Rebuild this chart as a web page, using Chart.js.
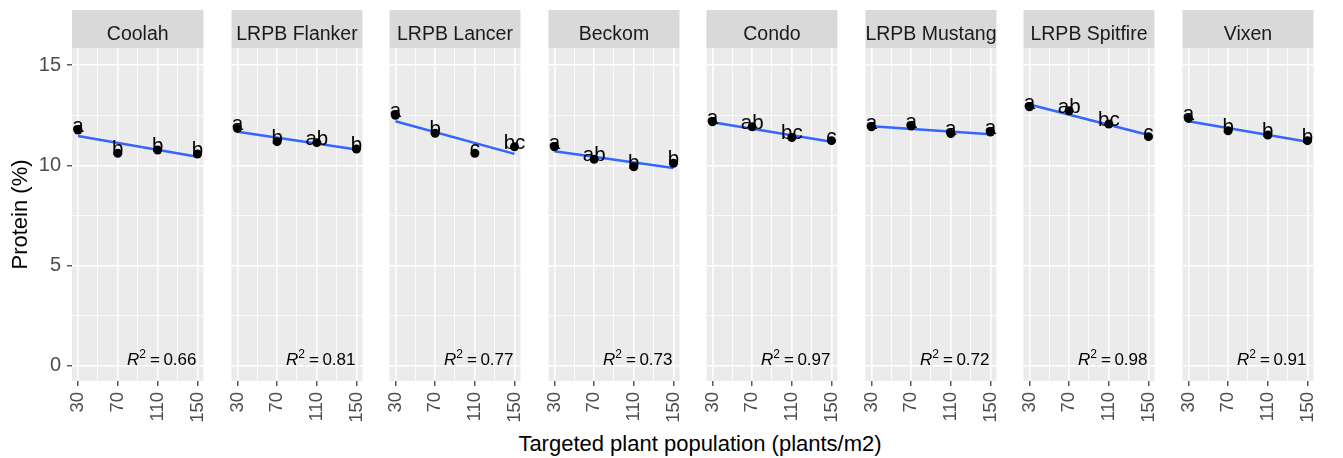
<!DOCTYPE html>
<html>
<head>
<meta charset="utf-8">
<script src="https://cdn.jsdelivr.net/npm/chart.js@4.4.1/dist/chart.umd.min.js"></script>
<style>
  html, body { margin: 0; padding: 0; background: #fff; }
  #wrap { position: relative; width: 1343px; height: 458px; overflow: hidden; font-family: "Liberation Sans", Arial, sans-serif; }
  #wrap canvas { position: absolute; top: 0; }
  #xtitle { position: absolute; left: 400px; width: 600px; top: 433px; text-align: center; font-size: 22px; line-height: 22px; color: #000; }
</style>
</head>
<body>
<div id="wrap">
  <div id="xtitle">Targeted plant population (plants/m2)</div>
</div>
<script>
// data
const varieties = ['Coolah', 'LRPB Flanker', 'LRPB Lancer', 'Beckom', 'Condo', 'LRPB Mustang', 'LRPB Spitfire', 'Vixen'];
const populations = [30, 70, 110, 150];

const proteinCoolah   = [11.76, 10.60, 10.76, 10.56];
const proteinFlanker  = [11.84, 11.18, 11.13, 10.81];
const proteinLancer   = [12.50, 11.60, 10.60, 10.93];
const proteinBeckom   = [10.93, 10.30, 9.93, 10.10];
const proteinCondo    = [12.17, 11.92, 11.39, 11.23];
const proteinMustang  = [11.92, 11.96, 11.59, 11.66];
const proteinSpitfire = [12.92, 12.72, 12.06, 11.43];
const proteinVixen    = [12.34, 11.72, 11.51, 11.23];

const lettersCoolah   = ['a', 'b', 'b', 'b'];
const lettersFlanker  = ['a', 'b', 'ab', 'b'];
const lettersLancer   = ['a', 'b', 'c', 'bc'];
const lettersBeckom   = ['a', 'ab', 'b', 'b'];
const lettersCondo    = ['a', 'ab', 'bc', 'c'];
const lettersMustang  = ['a', 'a', 'a', 'a'];
const lettersSpitfire = ['a', 'ab', 'bc', 'c'];
const lettersVixen    = ['a', 'b', 'b', 'b'];

// fitted line (lm) value at 30 and at 150
const fitAt30  = [11.46, 11.68, 12.20, 10.70, 12.15, 11.95, 13.03, 12.20];
const fitAt150 = [10.43, 10.79, 10.57, 9.87, 11.18, 11.55, 11.51, 11.18];
const rSquared = ['0.66', '0.81', '0.77', '0.73', '0.97', '0.72', '0.98', '0.91'];

const xTicks = [30, 70, 110, 150];
const xMinor = [50, 90, 130];
const yTicks = [0, 5, 10, 15];
const yMinor = [2.5, 7.5, 12.5];

const proteinAll = [proteinCoolah, proteinFlanker, proteinLancer, proteinBeckom, proteinCondo, proteinMustang, proteinSpitfire, proteinVixen];
const lettersAll = [lettersCoolah, lettersFlanker, lettersLancer, lettersBeckom, lettersCondo, lettersMustang, lettersSpitfire, lettersVixen];

const FONT = '"Liberation Sans", Arial, sans-serif';
const PANEL_W = 147;
const TOP = 48;      // top of panel (strip sits above)
const BOTTOM = 381;  // bottom of panel

const panelPlugin = {
  id: 'panel',
  beforeDraw(chart, args, opts) {
    const { ctx, chartArea: a } = chart;
    ctx.save();
    ctx.fillStyle = '#EBEBEB';
    ctx.fillRect(a.left, a.top, a.right - a.left, a.bottom - a.top);
    ctx.fillStyle = '#D9D9D9';
    ctx.fillRect(a.left, 10, a.right - a.left, a.top - 10);
    ctx.fillStyle = '#1A1A1A';
    ctx.font = '19.5px ' + FONT;
    ctx.textAlign = 'center';
    ctx.textBaseline = 'alphabetic';
    ctx.fillText(opts.strip, (a.left + a.right) / 2, 39.5);
    ctx.restore();
  },
  afterDatasetsDraw(chart, args, opts) {
    const { ctx } = chart;
    const meta = chart.getDatasetMeta(1);
    ctx.save();
    ctx.fillStyle = '#000';
    ctx.font = '20.5px ' + FONT;
    ctx.textAlign = 'center';
    ctx.textBaseline = 'alphabetic';
    meta.data.forEach((pt, j) => ctx.fillText(opts.letters[j], pt.x, pt.y + 2));

    // R^2 label, right aligned near x = 150, sitting on y = 0
    const xs = chart.scales.x, ys = chart.scales.y;
    const base = ys.getPixelForValue(0) - 1;
    let x = xs.getPixelForValue(150) - 1;
    ctx.textAlign = 'left';
    ctx.font = '17px ' + FONT;
    const wVal = ctx.measureText(opts.r2).width;
    const wEq = ctx.measureText('=').width;
    ctx.font = '12px ' + FONT;
    const wSup = ctx.measureText('2').width;
    ctx.font = 'italic 17px ' + FONT;
    const wR = ctx.measureText('R').width;
    x -= wVal;
    ctx.font = '17px ' + FONT;
    ctx.fillText(opts.r2, x, base);
    x -= 3.5 + wEq;
    ctx.fillText('=', x, base);
    x -= 4 + wSup;
    ctx.font = '12px ' + FONT;
    ctx.fillText('2', x, base - 7);
    x -= wR;
    ctx.font = 'italic 17px ' + FONT;
    ctx.fillText('R', x, base);

    if (opts.yTitle) {
      ctx.save();
      ctx.translate(27, (chart.chartArea.top + chart.chartArea.bottom) / 2);
      ctx.rotate(-Math.PI / 2);
      ctx.textAlign = 'center';
      ctx.font = '22px ' + FONT;
      ctx.fillText(opts.yTitle, 0, 0);
      ctx.restore();
    }
    ctx.restore();
  }
};

const wrap = document.getElementById('wrap');

varieties.forEach((name, i) => {
  const first = i === 0;
  const panelLeft = Math.round(72 + i * 158.57);
  const padL = first ? 0 : 4;
  const padR = 7;
  const axisW = first ? 72 : 0;
  const canvasLeft = first ? 0 : panelLeft - padL;
  const canvasW = (first ? 72 : padL) + PANEL_W + padR;

  const box = document.createElement('div');
  box.style.cssText = `position:absolute;top:0;left:${canvasLeft}px;width:${canvasW}px;height:458px;`;
  const canvas = document.createElement('canvas');
  box.appendChild(canvas);
  wrap.appendChild(box);

  const points = populations.map((p, j) => ({ x: p, y: proteinAll[i][j] }));
  const fit = [{ x: 30, y: fitAt30[i] }, { x: 150, y: fitAt150[i] }];

  new Chart(canvas, {
    type: 'scatter',
    data: {
      datasets: [
        {
          data: fit, showLine: true, borderColor: '#3366FF', borderWidth: 2.5,
          pointRadius: 0, order: 2
        },
        {
          data: points, backgroundColor: '#000', borderColor: '#000',
          pointRadius: 4.5, borderWidth: 0, order: 1
        }
      ]
    },
    options: {
      responsive: true,
      maintainAspectRatio: false,
      animation: false,
      events: [],
      layout: { padding: { top: TOP, left: padL, right: padR, bottom: 0 } },
      plugins: {
        legend: { display: false },
        tooltip: { enabled: false },
        panel: { strip: name, letters: lettersAll[i], r2: rSquared[i], yTitle: first ? 'Protein (%)' : null }
      },
      scales: {
        x: {
          type: 'linear', min: 24, max: 156,
          afterBuildTicks: s => { s.ticks = xTicks.concat(xMinor).sort((a, b) => a - b).map(v => ({ value: v })); },
          afterFit: s => { s.height = 458 - BOTTOM; },
          border: { display: false },
          grid: {
            color: '#FFFFFF',
            lineWidth: c => xTicks.includes(c.tick.value) ? 1.6 : 0.8,
            tickColor: c => xTicks.includes(c.tick.value) ? '#333333' : 'rgba(0,0,0,0)',
            tickLength: 5, tickWidth: 1.2
          },
          ticks: {
            autoSkip: false, minRotation: 90, maxRotation: 90, padding: 6,
            color: '#4D4D4D', font: { family: FONT, size: 18.5 },
            callback: v => xTicks.includes(v) ? String(v) : ''
          }
        },
        y: {
          type: 'linear', min: -0.75, max: 15.85,
          afterBuildTicks: s => { s.ticks = yTicks.concat(yMinor).sort((a, b) => a - b).map(v => ({ value: v })); },
          afterFit: s => { s.width = axisW; },
          border: { display: false },
          grid: {
            color: '#FFFFFF',
            lineWidth: c => yTicks.includes(c.tick.value) ? 1.6 : 0.8,
            tickColor: c => yTicks.includes(c.tick.value) ? '#333333' : 'rgba(0,0,0,0)',
            tickLength: 5, tickWidth: 1.2, drawTicks: first
          },
          ticks: {
            display: first, padding: 6,
            color: '#4D4D4D', font: { family: FONT, size: 20 },
            callback: v => yTicks.includes(v) ? String(v) : ''
          }
        }
      }
    },
    plugins: [panelPlugin]
  });
});
</script>
</body>
</html>
